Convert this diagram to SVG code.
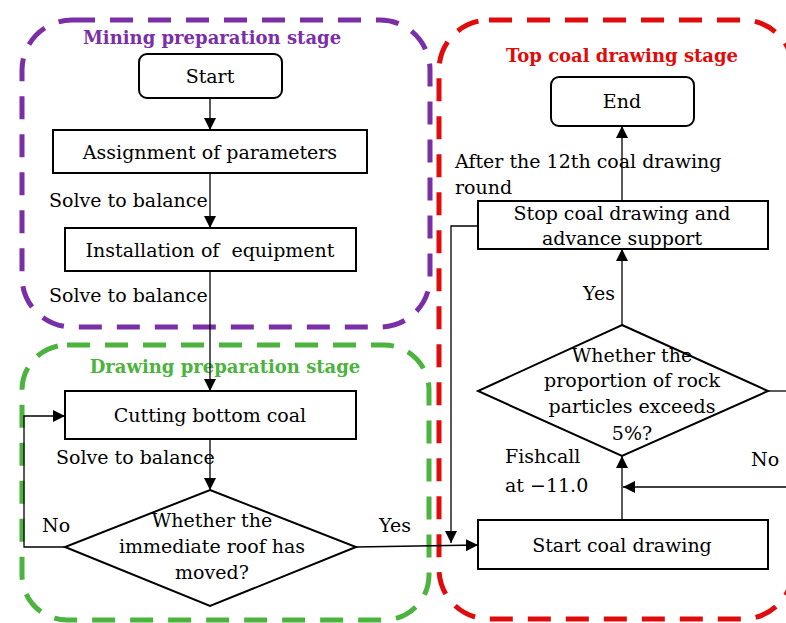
<svg xmlns="http://www.w3.org/2000/svg" width="786" height="623" viewBox="0 0 786 623">
<defs>
<marker id="ah" markerUnits="userSpaceOnUse" markerWidth="12" markerHeight="12" refX="12" refY="6" orient="auto"><path d="M0,0 L12,6 L0,12 z" fill="#000"/></marker>
<style>
text{font-family:"DejaVu Serif","Liberation Serif",serif;font-size:19px;fill:#000}
.t{text-anchor:middle}
.title{font-weight:bold;font-size:18px;text-anchor:middle}
.stage{fill:none;stroke-width:5;stroke-dasharray:23 15}
.box{fill:#fff;stroke:#000;stroke-width:2}
.ln{fill:none;stroke:#000;stroke-width:1.3}
</style>
</defs>
<rect width="786" height="623" fill="#fff"/>
<g id="stages">
<rect id="mining-stage" class="stage" x="22" y="20" width="408" height="307" rx="50" stroke="#7b2fa6"/>
<rect id="drawing-stage" class="stage" x="22" y="345" width="407" height="275" rx="45" stroke="#4bb33e"/>
<rect id="top-stage" class="stage" x="439" y="20" width="354" height="599" rx="50" stroke="#e00b0b"/>
<text class="title" x="212" y="44" style="fill:#7b2fa6">Mining preparation stage</text>
<text class="title" x="225" y="373" style="fill:#4bb33e">Drawing preparation stage</text>
<text class="title" x="622" y="62" style="fill:#e00b0b">Top coal drawing stage</text>
</g>
<g id="connectors">
<line class="ln" x1="210" y1="98" x2="210" y2="130" marker-end="url(#ah)"/>
<line class="ln" x1="210" y1="173" x2="210" y2="228" marker-end="url(#ah)"/>
<line class="ln" x1="210" y1="271" x2="210" y2="391" marker-end="url(#ah)"/>
<line class="ln" x1="210" y1="439" x2="210" y2="490" marker-end="url(#ah)"/>
<polyline class="ln" points="65,547 24,547 24,416 65,416" marker-end="url(#ah)"/>
<line class="ln" x1="356" y1="547" x2="478" y2="545" marker-end="url(#ah)"/>
<line class="ln" x1="622" y1="520" x2="622" y2="456" marker-end="url(#ah)"/>
<line class="ln" x1="622" y1="325" x2="622" y2="249" marker-end="url(#ah)"/>
<line class="ln" x1="622" y1="201" x2="622" y2="126" marker-end="url(#ah)"/>
<polyline class="ln" points="478,226 451,226 451,543" marker-end="url(#ah)"/>
<line class="ln" x1="768" y1="391" x2="786" y2="391"/>
<line class="ln" x1="786" y1="487" x2="623" y2="487" marker-end="url(#ah)"/>
<text x="49" y="207">Solve to balance</text>
<text x="49" y="302">Solve to balance</text>
<text x="56" y="464">Solve to balance</text>
<text x="42" y="532">No</text>
<text x="379" y="532">Yes</text>
<text x="583" y="300">Yes</text>
<text x="751" y="466">No</text>
<text x="505" y="463">Fishcall</text>
<text x="505" y="492">at −11.0</text>
<text x="455" y="168">After the 12th coal drawing</text>
<text x="455" y="194">round</text>
</g>
<g id="start">
<rect class="box" x="139" y="54" width="143" height="44" rx="8"/>
<text class="t" x="210" y="83">Start</text>
</g>
<g id="assign">
<rect class="box" x="53" y="130" width="314" height="43"/>
<text class="t" x="210" y="159">Assignment of parameters</text>
</g>
<g id="install">
<rect class="box" x="65" y="228" width="291" height="43"/>
<text class="t" x="210" y="257">Installation of&#160; equipment</text>
</g>
<g id="cutting">
<rect class="box" x="65" y="391" width="291" height="48"/>
<text class="t" x="210" y="422">Cutting bottom coal</text>
</g>
<g id="roof">
<polygon class="box" points="210,490 356,547 210,606 65,547"/>
<text class="t" x="212" y="527">Whether the</text>
<text class="t" x="212" y="553">immediate roof has</text>
<text class="t" x="212" y="579">moved?</text>
</g>
<g id="end">
<rect class="box" x="551" y="77" width="143" height="49" rx="8"/>
<text class="t" x="622" y="108">End</text>
</g>
<g id="stop">
<rect class="box" x="478" y="201" width="290" height="48"/>
<text class="t" x="622" y="220">Stop coal drawing and</text>
<text class="t" x="622" y="245">advance support</text>
</g>
<g id="rock">
<polygon class="box" points="622,325 768,391 622,456 478,391"/>
<text class="t" x="632" y="362">Whether the</text>
<text class="t" x="632" y="387">proportion of rock</text>
<text class="t" x="632" y="413">particles exceeds</text>
<text class="t" x="632" y="440">5%?</text>
</g>
<g id="startcoal">
<rect class="box" x="478" y="520" width="290" height="49"/>
<text class="t" x="622" y="552">Start coal drawing</text>
</g>
</svg>
